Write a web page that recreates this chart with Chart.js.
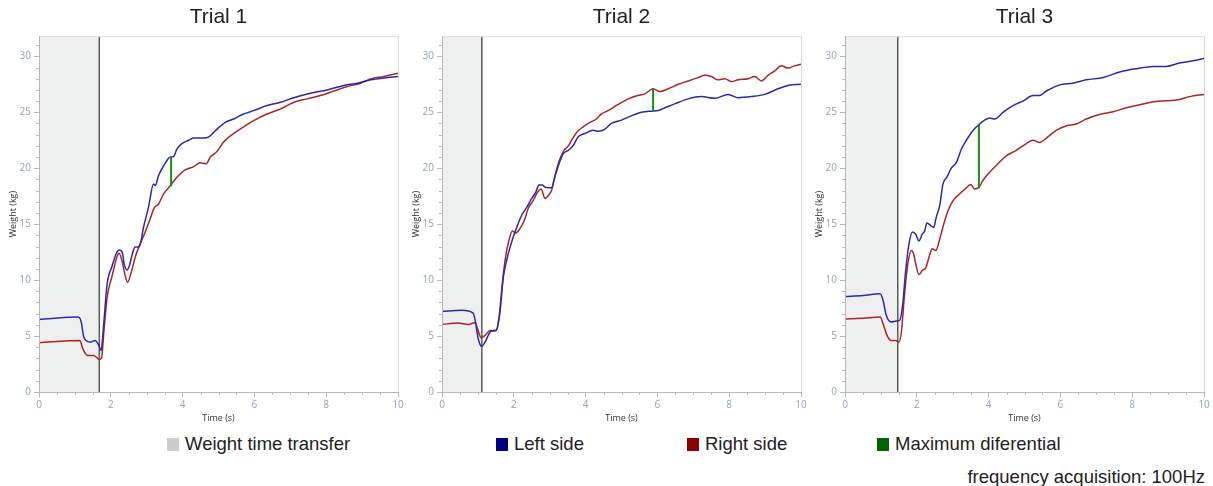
<!DOCTYPE html>
<html>
<head>
<meta charset="utf-8">
<title>Weight transfer trials</title>
<script src="https://cdn.jsdelivr.net/npm/chart.js@4.4.1/dist/chart.umd.min.js"></script>
<style>
  body { margin: 0; background: #fff; font-family: 'Liberation Sans', Arial, sans-serif; }
  #wrap { position: relative; width: 1213px; height: 486px; overflow: hidden; }
  canvas { position: absolute; top: 0; }
  .leg { position: absolute; top: 434px; height: 20px; display: flex; align-items: center; font-size: 18.5px; color: #222; white-space: nowrap; }
  .leg i { display: inline-block; width: 12px; height: 13px; margin-right: 6px; }
  #foot { position: absolute; top: 466px; right: 8px; font-size: 18.5px; color: #222; white-space: nowrap; }
</style>
</head>
<body>
<div id="wrap">
  <canvas id="trial1" width="405" height="425" style="left:1px"></canvas>
  <canvas id="trial2" width="405" height="425" style="left:404px"></canvas>
  <canvas id="trial3" width="405" height="425" style="left:807px"></canvas>

  <div class="leg" style="left:167px"><i style="background:#cccccc"></i>Weight time transfer</div>
  <div class="leg" style="left:496px"><i style="background:#000080"></i>Left side</div>
  <div class="leg" style="left:687px"><i style="background:#8b0000"></i>Right side</div>
  <div class="leg" style="left:877px"><i style="background:#006400"></i>Maximum diferential</div>
  <div id="foot">frequency acquisition: 100Hz</div>
</div>

<script>
// ── Trial 1 ──
const t1LeftT   = [0, 1.1, 1.18, 1.24, 1.31, 1.42, 1.56, 1.66, 1.70, 1.73, 1.8, 1.9, 2.03, 2.17, 2.24, 2.32, 2.37, 2.45, 2.52, 2.6, 2.68, 2.75, 2.82, 2.91, 3.05, 3.19, 3.24, 3.33, 3.47, 3.61, 3.67, 3.75, 3.84, 3.98, 4.17, 4.31, 4.59, 4.73, 4.96, 5.19, 5.42, 5.7, 5.98, 6.35, 6.73, 7.1, 7.56, 8.03, 8.49, 8.87, 9.24, 9.61, 10];
const t1LeftKg  = [6.49, 6.7, 6.2, 5.0, 4.6, 4.46, 4.6, 4.2, 3.87, 3.7, 6.0, 9.7, 11.2, 12.5, 12.7, 12.5, 11.5, 10.9, 11.3, 12.35, 12.95, 12.95, 13.2, 14.7, 16.5, 18.6, 18.45, 19.35, 20.2, 20.9, 21.0, 21.04, 21.7, 22.2, 22.5, 22.7, 22.7, 22.8, 23.5, 24.1, 24.4, 24.85, 25.15, 25.6, 25.9, 26.3, 26.7, 27.0, 27.4, 27.6, 27.9, 28.07, 28.2];
const t1RightT  = [0, 1.14, 1.22, 1.35, 1.52, 1.61, 1.68, 1.74, 1.81, 1.9, 2.03, 2.17, 2.23, 2.31, 2.4, 2.47, 2.56, 2.68, 2.8, 2.96, 3.1, 3.21, 3.33, 3.47, 3.66, 3.84, 4.07, 4.31, 4.49, 4.66, 4.77, 4.96, 5.13, 5.42, 5.7, 5.98, 6.35, 6.73, 7.1, 7.47, 7.84, 8.21, 8.59, 8.96, 9.24, 9.61, 10];
const t1RightKg = [4.4, 4.6, 3.87, 3.27, 3.27, 3.07, 2.9, 3.0, 5.5, 8.5, 10.3, 12.05, 12.4, 11.75, 10.4, 9.8, 10.6, 12.05, 13.1, 14.3, 15.5, 16.45, 16.8, 17.7, 18.45, 19.2, 19.85, 20.15, 20.5, 20.4, 21.0, 21.5, 22.3, 23.1, 23.7, 24.25, 24.85, 25.3, 25.9, 26.2, 26.5, 26.9, 27.3, 27.6, 27.98, 28.2, 28.5];
const t1Transfer = 1.68;
const t1DiffT    = 3.68;
const t1DiffKg   = [18.4, 21.0];

// ── Trial 2 ──
const t2LeftT   = [0, 0.55, 0.87, 0.94, 1.01, 1.1, 1.2, 1.34, 1.43, 1.52, 1.61, 1.71, 1.8, 1.92, 2.08, 2.22, 2.36, 2.5, 2.61, 2.7, 2.79, 2.88, 3.05, 3.14, 3.26, 3.38, 3.52, 3.65, 3.79, 3.98, 4.21, 4.35, 4.54, 4.72, 5.0, 5.28, 5.56, 5.83, 6.02, 6.21, 6.48, 6.86, 7.23, 7.6, 7.97, 8.25, 8.62, 8.99, 9.36, 9.64, 10];
const t2LeftKg  = [7.2, 7.3, 7.05, 6.1, 4.76, 4.08, 4.46, 5.36, 5.5, 5.56, 7.0, 10.3, 11.75, 13.2, 14.7, 15.8, 16.5, 17.3, 17.85, 18.5, 18.5, 18.3, 18.25, 19.2, 20.4, 21.3, 21.6, 22.0, 22.8, 23.1, 23.4, 23.3, 23.5, 24.0, 24.3, 24.7, 25.0, 25.1, 25.15, 25.4, 25.75, 26.2, 26.4, 26.25, 26.6, 26.3, 26.4, 26.6, 27.1, 27.4, 27.5];
const t2RightT  = [0, 0.45, 0.73, 0.92, 0.99, 1.09, 1.2, 1.34, 1.43, 1.49, 1.59, 1.68, 1.77, 1.86, 1.96, 2.05, 2.17, 2.29, 2.4, 2.54, 2.66, 2.76, 2.87, 2.96, 3.05, 3.16, 3.28, 3.4, 3.52, 3.61, 3.75, 3.93, 4.12, 4.3, 4.44, 4.63, 4.91, 5.19, 5.46, 5.65, 5.88, 6.07, 6.3, 6.58, 6.86, 7.13, 7.32, 7.5, 7.69, 7.88, 8.06, 8.25, 8.53, 8.71, 8.9, 9.08, 9.27, 9.45, 9.64, 9.82, 10];
const t2RightKg = [6.04, 6.16, 6.04, 6.2, 5.65, 4.85, 5.06, 5.5, 5.45, 5.45, 6.7, 9.7, 12.05, 13.5, 14.4, 14.2, 14.6, 15.3, 16.4, 17.1, 17.85, 18.15, 17.3, 17.55, 18.0, 19.5, 20.8, 21.6, 22.0, 22.5, 23.2, 23.7, 24.1, 24.4, 24.85, 25.15, 25.7, 26.2, 26.5, 26.65, 27.1, 26.85, 27.1, 27.5, 27.8, 28.1, 28.3, 28.2, 27.9, 28.0, 27.75, 27.9, 28.0, 28.2, 27.8, 28.3, 28.7, 29.15, 28.95, 29.15, 29.3];
const t2Transfer = 1.11;
const t2DiffT    = 5.88;
const t2DiffKg   = [25.05, 27.1];

// ── Trial 3 ──
const t3LeftT   = [0, 0.5, 0.98, 1.06, 1.15, 1.29, 1.43, 1.52, 1.6, 1.69, 1.78, 1.88, 1.97, 2.06, 2.15, 2.22, 2.28, 2.38, 2.47, 2.54, 2.64, 2.73, 2.84, 2.96, 3.1, 3.24, 3.38, 3.57, 3.73, 3.89, 4.03, 4.17, 4.4, 4.68, 4.96, 5.24, 5.42, 5.61, 5.98, 6.35, 6.72, 7.19, 7.65, 8.12, 8.58, 8.95, 9.32, 9.69, 10];
const t3LeftKg  = [8.54, 8.63, 8.78, 8.2, 6.85, 6.25, 6.34, 6.4, 7.6, 10.86, 13.2, 14.3, 14.1, 13.5, 14.1, 14.4, 15.1, 14.9, 14.7, 15.6, 16.7, 18.6, 19.2, 20.0, 20.5, 21.7, 22.5, 23.4, 23.9, 24.3, 24.5, 24.4, 25.0, 25.6, 26.0, 26.5, 26.5, 26.9, 27.45, 27.6, 27.9, 28.1, 28.6, 28.9, 29.1, 29.1, 29.4, 29.6, 29.8];
const t3RightT  = [0, 0.5, 0.98, 1.06, 1.17, 1.29, 1.41, 1.5, 1.57, 1.66, 1.75, 1.85, 1.91, 1.97, 2.06, 2.15, 2.25, 2.34, 2.43, 2.53, 2.64, 2.75, 2.87, 3.01, 3.19, 3.38, 3.5, 3.61, 3.73, 3.84, 4.03, 4.26, 4.49, 4.77, 5.05, 5.24, 5.42, 5.61, 5.89, 6.17, 6.44, 6.72, 7.09, 7.47, 7.84, 8.3, 8.77, 9.23, 9.6, 10];
const t3RightKg = [6.52, 6.6, 6.7, 6.1, 5.06, 4.6, 4.6, 4.46, 5.36, 8.78, 11.46, 12.65, 12.35, 11.46, 10.5, 10.86, 11.1, 12.05, 12.8, 12.65, 13.7, 15.0, 16.2, 17.1, 17.7, 18.25, 18.55, 18.15, 18.3, 18.9, 19.65, 20.4, 21.1, 21.6, 22.2, 22.5, 22.3, 22.7, 23.4, 23.8, 23.95, 24.4, 24.8, 25.05, 25.4, 25.75, 26.0, 26.1, 26.4, 26.6];
const t3Transfer = 1.47;
const t3DiffT    = 3.73;
const t3DiffKg   = [18.2, 23.9];

// ── Axes ──
const X_MAX = 10;
const Y_MAX = 31.8;
const xTickStep = 2, xMinorStep = 0.5;
const yTickStep = 5, yMinorStep = 1;

// colours
const BLUE   = '#2929ad';
const RED    = '#ab2626';
const GREEN  = '#1c8a1c';
const SHADE  = '#eef0ef';
const MARKER = '#5a5a5a';
const TICK   = '#8fa4b8';
const AXIS   = '#b8b8b8';

function pts(xs, ys) {
    return xs.map((x, i) => ({ x: x, y: ys[i] }));
}

// small ticks between the labelled ones + light frame round the plot
const frameTicks = {
    id: 'frameTicks',
    afterDatasetsDraw(chart) {
        const { ctx, chartArea: a, scales: { x, y } } = chart;
        ctx.save();
        ctx.lineWidth = 1;
        ctx.strokeStyle = '#dcdcdc';
        ctx.beginPath();
        ctx.moveTo(a.left, a.top + 0.5); ctx.lineTo(a.right + 0.5, a.top + 0.5);
        ctx.lineTo(a.right + 0.5, a.bottom);
        ctx.stroke();
        ctx.strokeStyle = AXIS;
        ctx.beginPath();
        ctx.moveTo(a.left + 0.5, a.top); ctx.lineTo(a.left + 0.5, a.bottom + 0.5);
        ctx.lineTo(a.right, a.bottom + 0.5);
        for (let v = 0; v <= Y_MAX; v += yMinorStep) {
            if (v % yTickStep === 0) continue;
            const py = Math.round(y.getPixelForValue(v)) + 0.5;
            ctx.moveTo(a.left - 3, py); ctx.lineTo(a.left, py);
        }
        for (let v = 0; v <= X_MAX; v += xMinorStep) {
            if (v % xTickStep === 0) continue;
            const px = Math.round(x.getPixelForValue(v)) + 0.5;
            ctx.moveTo(px, a.bottom); ctx.lineTo(px, a.bottom + 3);
        }
        ctx.stroke();
        ctx.restore();
    }
};

function trialChart(id, title, leftT, leftKg, rightT, rightKg, transfer, diffT, diffKg) {
    const line = (data, color, w) => ({
        data: data, borderColor: color, borderWidth: w, pointRadius: 0,
        fill: false, cubicInterpolationMode: 'monotone'
    });
    return new Chart(document.getElementById(id), {
        type: 'line',
        data: {
            datasets: [
                Object.assign(line([{ x: diffT, y: diffKg[0] }, { x: diffT, y: diffKg[1] }], GREEN, 2), { order: 0 }),
                Object.assign(line(pts(leftT, leftKg), BLUE, 1.5), { order: 1 }),
                Object.assign(line(pts(rightT, rightKg), RED, 1.5), { order: 2 }),
                Object.assign(line([{ x: transfer, y: 0 }, { x: transfer, y: Y_MAX }], MARKER, 1.5), { order: 3 }),
                {
                    data: [{ x: 0, y: Y_MAX }, { x: transfer, y: Y_MAX }],
                    borderWidth: 0, pointRadius: 0,
                    fill: 'origin', backgroundColor: SHADE, order: 4
                }
            ]
        },
        options: {
            responsive: false,
            animation: false,
            layout: { padding: { left: 0, right: 8, top: 0, bottom: 0 } },
            plugins: {
                legend: { display: false },
                tooltip: { enabled: false },
                title: {
                    display: true, text: title, fullSize: false,
                    color: '#222', padding: { top: 5, bottom: 6 },
                    font: { family: "'Liberation Sans', Arial, sans-serif", size: 21, weight: 'normal' }
                }
            },
            scales: {
                x: {
                    type: 'linear', min: 0, max: X_MAX,
                    afterFit: (axis) => { axis.height = 33; },
                    ticks: { stepSize: xTickStep, color: TICK, padding: 2,
                             font: { family: "'Open Sans', sans-serif", size: 10 } },
                    grid: { drawOnChartArea: false, tickLength: 5, tickColor: AXIS },
                    border: { display: false },
                    title: { display: true, text: 'Time (s)', color: '#333', padding: { top: 0, bottom: 1 },
                             font: { family: "'Open Sans', sans-serif", size: 9 } }
                },
                y: {
                    min: 0, max: Y_MAX,
                    afterFit: (axis) => { axis.width = 38; },
                    ticks: { stepSize: yTickStep, includeBounds: false, color: TICK, padding: 3,
                             font: { family: "'Open Sans', sans-serif", size: 10 } },
                    grid: { drawOnChartArea: false, tickLength: 5, tickColor: AXIS },
                    border: { display: false },
                    title: { display: true, text: 'Weight (kg)', color: '#333', padding: { top: 7, bottom: 0 },
                             font: { family: "'Open Sans', sans-serif", size: 9 } }
                }
            }
        },
        plugins: [frameTicks]
    });
}

trialChart('trial1', 'Trial 1', t1LeftT, t1LeftKg, t1RightT, t1RightKg, t1Transfer, t1DiffT, t1DiffKg);
trialChart('trial2', 'Trial 2', t2LeftT, t2LeftKg, t2RightT, t2RightKg, t2Transfer, t2DiffT, t2DiffKg);
trialChart('trial3', 'Trial 3', t3LeftT, t3LeftKg, t3RightT, t3RightKg, t3Transfer, t3DiffT, t3DiffKg);
</script>
</body>
</html>
